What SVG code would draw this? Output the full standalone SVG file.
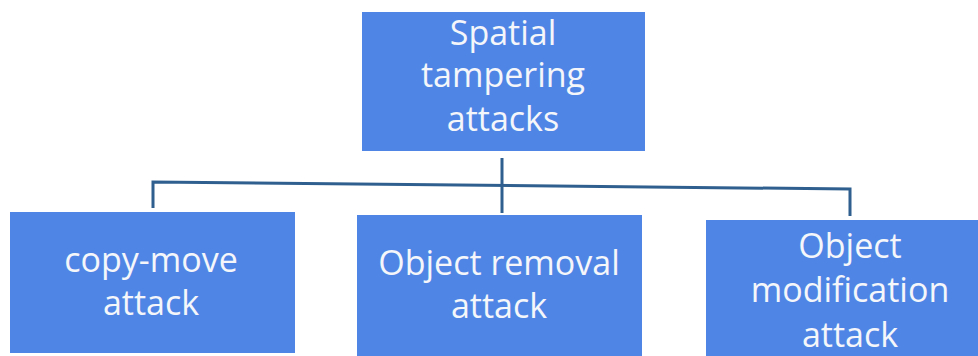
<svg xmlns="http://www.w3.org/2000/svg" width="978" height="356" viewBox="0 0 978 356">
  <style>
    .box { fill: #4f86e6; }
    .label { font-family: "Open Sans", "Liberation Sans", sans-serif; font-size: 34px; fill: #f4f6fa; text-anchor: middle; }
    .wire { fill: none; stroke: #2f5f8e; stroke-width: 3; }
  </style>
  <rect width="978" height="356" fill="#ffffff"/>

  <!-- tree connectors -->
  <g id="connectors">
    <path class="wire" d="M153,208 L153,182 L850,189 L850,216"/>
    <path class="wire" d="M502,158 L502,213"/>
  </g>

  <g id="root">
    <rect class="box" x="362" y="12" width="283" height="139"/>
    <text class="label" x="503" y="45">Spatial</text>
    <text class="label" x="503" y="87">tampering</text>
    <text class="label" x="503" y="131">attacks</text>
  </g>

  <g id="copy-move">
    <rect class="box" x="10" y="212" width="285" height="141"/>
    <text class="label" x="151" y="272">copy-move</text>
    <text class="label" x="151" y="315">attack</text>
  </g>

  <g id="object-removal">
    <rect class="box" x="357" y="215" width="285" height="145"/>
    <text class="label" x="499" y="275">Object removal</text>
    <text class="label" x="499" y="318">attack</text>
  </g>

  <g id="object-modification">
    <rect class="box" x="706" y="220" width="280" height="140"/>
    <text class="label" x="850" y="258">Object</text>
    <text class="label" x="850" y="302">modification</text>
    <text class="label" x="850" y="347">attack</text>
  </g>
</svg>
